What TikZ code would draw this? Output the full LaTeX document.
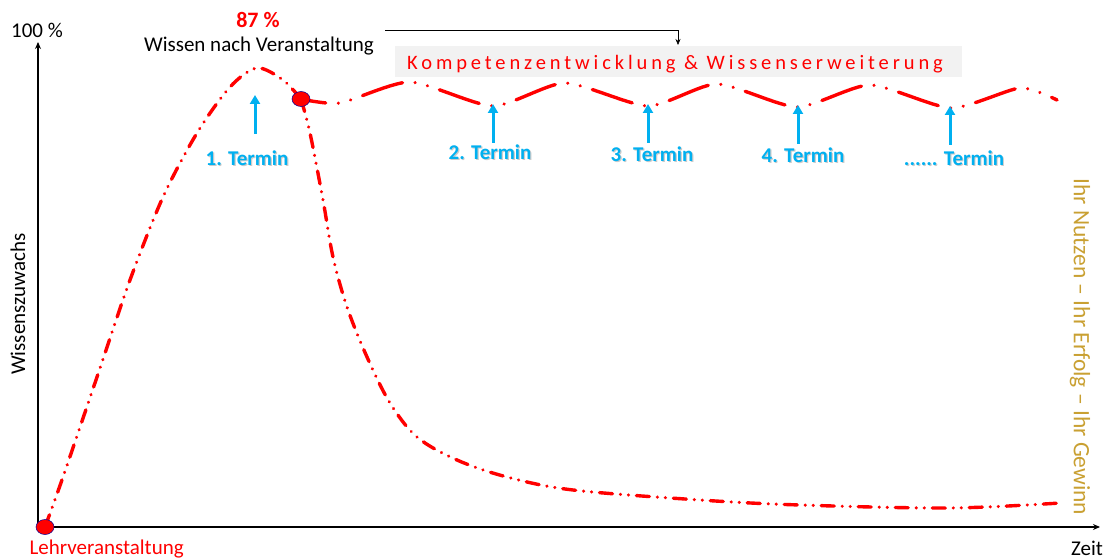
\documentclass[tikz,border=0pt]{standalone}
\usepackage{fontspec}
\setmainfont{Carlito}
\newfontfamily\spacedfont[LetterSpace=19]{Carlito}
\usetikzlibrary{arrows.meta,shapes.geometric}
\definecolor{curvered}{RGB}{255,0,0}
\definecolor{terminblue}{RGB}{0,176,240}
\definecolor{gold}{RGB}{201,160,50}
\definecolor{boxgray}{RGB}{242,242,242}
\begin{document}
\begin{tikzpicture}[x=1pt,y=-1pt,
  axis/.style={line width=1.3pt,-{Stealth[length=7pt,width=6pt]}},
  rise/.style={curvered,line width=3.4pt,line cap=round,
    dash pattern=on 13pt off 8pt on 0.01pt off 8pt on 0.01pt off 8pt},
  wave/.style={curvered,line width=3.4pt,line cap=round,
    dash pattern=on 42pt off 12.7pt on 0.01pt off 12.7pt on 0.01pt off 12.7pt,
    dash phase=17pt},
  marker/.style={ellipse,draw=blue!60!black,fill=curvered,line width=0.5pt,
    minimum width=18pt,minimum height=15pt,inner sep=0pt},
  termarrow/.style={terminblue,line width=3pt,-{Triangle[length=9pt,width=10pt]}},
  termfont/.style={font=\fontsize{21}{24}\selectfont\bfseries},
  termlabel/.style={termfont,terminblue},
  termshadow/.style={termfont,black!45,opacity=0.45,xshift=1.2pt,yshift=-1.5pt},
  plain/.style={font=\fontsize{21}{24}\selectfont}]
\useasboundingbox (0,0) rectangle (1104,559);

% axes
\coordinate (origin) at (38,527);
\coordinate (ytop) at (38,42);
\coordinate (xend) at (1100,527);
\draw[axis] (origin) -- (ytop);
\draw[axis] (origin) -- (xend);
\node[plain] (hundred) at (37,30) {100 \%};
\node[plain] (zeit) at (1087,548) {Zeit};
\node[plain,rotate=90] (ylabel) at (18,304) {Wissenszuwachs};
\node[curvered,font=\fontsize{21}{24}\selectfont,anchor=west] (lehr) at (26,549) {Lehrveranstaltung};

% headline above the peak
\node[curvered,font=\fontsize{22}{26}\selectfont\bfseries] (peakval) at (258,20) {87 \%};
\node[font=\fontsize{21}{25}\selectfont] (wissen) at (259,46) {Wissen nach Veranstaltung};

% banner with pointer
\node[fill=boxgray,minimum width=567pt,minimum height=31pt,inner sep=0pt] (banner) at (678.5,62) {};
\node[curvered,font=\fontsize{20.5}{24}\spacedfont] (bannertext) at (675,64) {Kompetenzentwicklung \& Wissenserweiterung};
\coordinate (ptrstart) at (385,30);
\coordinate (ptrcorner) at (678,30);
\coordinate (ptrend) at (678,45);
\draw[line width=0.6pt,-{Stealth[length=6pt,width=5pt]}] (ptrstart) -- (ptrcorner) -- (ptrend);

% forgetting curve: rise and decay
\draw[rise] plot[smooth,tension=0.5] coordinates {(45,527) (63,477) (97,377) (130,280) (163,197) (197,133) (230,87) (257,68) (283,80) (301,99)};
\draw[rise] plot[smooth,tension=0.55] coordinates {(301,99) (310,133) (323,200) (333,257) (347,307) (367,357) (390,403) (417,437) (457,460) (507,477) (573,490) (700,500) (800,505) (950,508) (1060,503)};

% knowledge growth with refresher dates
\draw[wave] plot[smooth,tension=0.4] coordinates {(301,99) (340,103) (410,82) (493,106) (565,83) (648,106) (717,84) (797,107) (870,85) (951,108) (1020,88) (1057,100)};

% markers
\node[marker] (startdot) at (45,527) {};
\node[marker] (switchdot) at (301,99) {};

% Termin labels with soft shadow
\node[termshadow] (t1s) at (247,158) {1. Termin};
\node[termshadow] (t2s) at (490,152) {2. Termin};
\node[termshadow] (t3s) at (652,154) {3. Termin};
\node[termshadow] (t4s) at (803,155) {4. Termin};
\node[termshadow] (t5s) at (954,158) {...... Termin};
\node[termlabel] (t1) at (247,158) {1. Termin};
\node[termlabel] (t2) at (490,152) {2. Termin};
\node[termlabel] (t3) at (652,154) {3. Termin};
\node[termlabel] (t4) at (803,155) {4. Termin};
\node[termlabel] (t5) at (954,158) {...... Termin};

% Termin arrows
\coordinate (a1) at (255,95);
\coordinate (a2) at (493,104);
\coordinate (a3) at (648,104);
\coordinate (a4) at (798,105);
\coordinate (a5) at (950,106);
\draw[termarrow] (255,134) -- (a1);
\draw[termarrow] (493,143) -- (a2);
\draw[termarrow] (648,143) -- (a3);
\draw[termarrow] (798,144) -- (a4);
\draw[termarrow] (950,145) -- (a5);

% side slogan
\node[gold,rotate=-90,font=\fontsize{23.5}{26}\selectfont] (slogan) at (1080,347) {Ihr Nutzen -- Ihr Erfolg -- Ihr Gewinn};
\end{tikzpicture}
\end{document}
